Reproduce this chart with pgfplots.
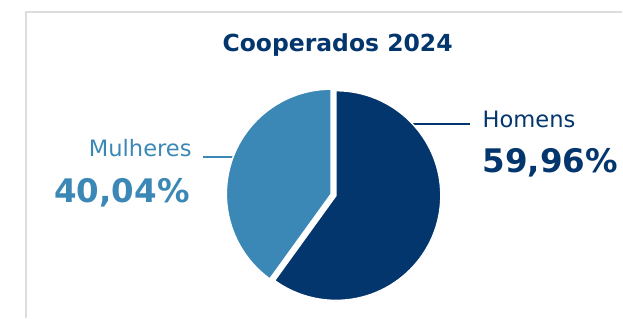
\documentclass[border=0pt]{standalone}
\usepackage{pgfplots}
\usepackage{pgfplotstable}
\pgfplotsset{compat=1.18}
\usepackage{fontspec}
\setmainfont{DejaVu Sans}
\definecolor{navy}{HTML}{04366E}
\definecolor{lblue}{HTML}{3B88B6}
\definecolor{cardline}{HTML}{DDDDDD}
\pgfplotstableread{
label value
Homens 59.96
Mulheres 40.04
}\pietable
\begin{document}
\begin{tikzpicture}
\pgfplotstablegetelem{0}{value}\of\pietable \let\vH\pgfplotsretval
\pgfplotstablegetelem{1}{value}\of\pietable \let\vM\pgfplotsretval
\pgfmathsetmacro\aH{90-3.6*\vH}
\pgfmathsetmacro\mH{90-1.8*\vH}
\pgfmathsetmacro\aM{\aH+360}
\pgfmathsetmacro\mM{(\aM+90)/2}
\begin{axis}[
  x=1bp, y=1bp,
  xmin=0, xmax=623, ymin=0, ymax=318,
  hide axis, clip=false,
]
% card border
\draw[cardline, line width=1.5bp] (axis cs:26,0) -- (axis cs:26,306) -- (axis cs:623,306);
% leader lines
\draw[navy, line width=2.5bp] (axis cs:410,194) -- (axis cs:471,194);
\draw[lblue, line width=2.5bp] (axis cs:203,161) -- (axis cs:236,161);
% pie slices
\fill[navy, draw=white, line width=1.5bp]
  ([shift={(\mH:2.5bp)}]axis cs:334,123) -- ++(90:105bp)
  arc[start angle=90, end angle=\aH, radius=105bp] -- cycle;
\fill[lblue, draw=white, line width=1.5bp]
  ([shift={(\mM:2.5bp)}]axis cs:334,123) -- ++(90:105bp)
  arc[start angle=90, end angle=\aM, radius=105bp] -- cycle;
% texts
\node[anchor=base, inner sep=0, text=navy, font=\fontsize{23.5bp}{28bp}\selectfont\bfseries]
  at (axis cs:338,266) {Cooperados 2024};
\node[anchor=base west, inner sep=0, text=navy, font=\fontsize{22.6bp}{28bp}\selectfont]
  at (axis cs:483,190) {Homens};
\node[anchor=base west, inner sep=0, text=navy, font=\fontsize{32.5bp}{40bp}\selectfont\bfseries]
  at (axis cs:483,145) {59,96\%};
\node[anchor=base east, inner sep=0, text=lblue, font=\fontsize{22.6bp}{28bp}\selectfont]
  at (axis cs:192,161) {Mulheres};
\node[anchor=base east, inner sep=0, text=lblue, font=\fontsize{32.5bp}{40bp}\selectfont\bfseries]
  at (axis cs:190,115) {40,04\%};
\path (axis cs:0,0) rectangle (axis cs:623,318);
\end{axis}
\end{tikzpicture}
\end{document}
